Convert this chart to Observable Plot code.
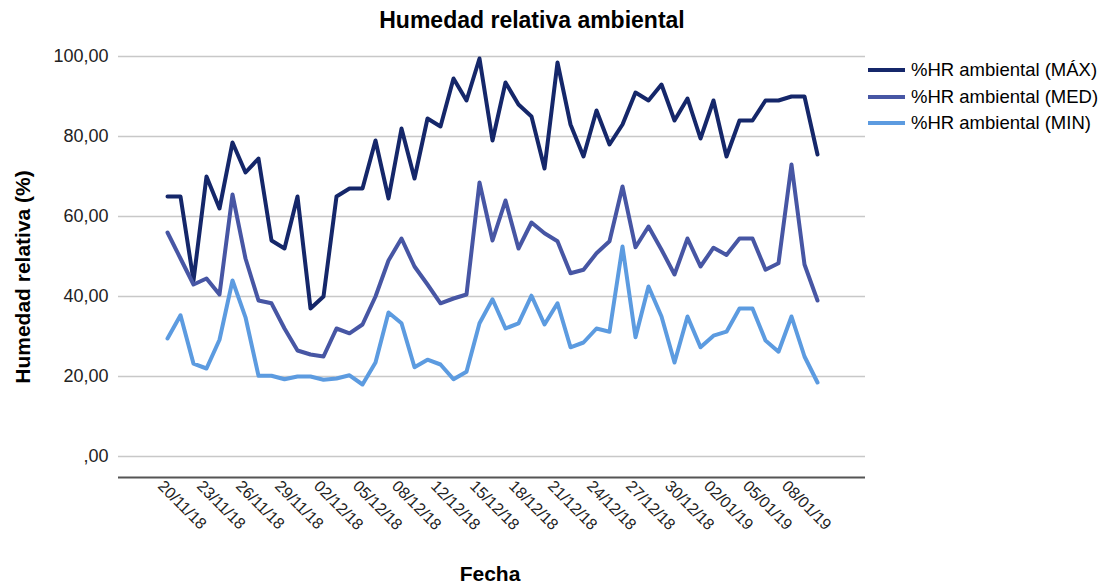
<!DOCTYPE html>
<html><head><meta charset="utf-8">
<script src="https://cdn.jsdelivr.net/npm/d3@7"></script>
<script src="https://cdn.jsdelivr.net/npm/@observablehq/plot@0.6"></script>
<style>
body{margin:0;background:#fff;font-family:"Liberation Sans",Arial,sans-serif;}
#wrap{position:relative;width:1106px;height:587px;overflow:hidden;}
#chart{position:absolute;left:0;top:0;}
.t{position:absolute;font-weight:bold;color:#000;white-space:nowrap;line-height:1;}
#title{left:0;width:1064px;top:9px;text-align:center;font-size:23px;}
#ylab{left:22px;top:277px;font-size:21px;transform:translate(-50%,-50%) rotate(-90deg);}
#xlab{left:490px;top:573px;font-size:21px;transform:translate(-50%,-50%);}
.leg{position:absolute;left:868px;height:20px;display:flex;align-items:center;font-size:18.5px;color:#000;white-space:nowrap;}
.sw{width:37px;height:4px;margin-right:6px;}
</style></head><body>
<div id="wrap">
  <div id="chart"></div>
  <div class="t" id="title">Humedad relativa ambiental</div>
  <div class="t" id="ylab">Humedad relativa (%)</div>
  <div class="t" id="xlab">Fecha</div>
  <div id="legend"></div>
</div>
<script>
const dates = ["20/11/18","21/11/18","22/11/18","23/11/18","24/11/18","25/11/18","26/11/18","27/11/18","28/11/18","29/11/18","30/11/18",
"01/12/18","02/12/18","03/12/18","04/12/18","05/12/18","06/12/18","07/12/18","08/12/18","09/12/18","11/12/18","12/12/18","13/12/18","14/12/18","15/12/18","16/12/18","17/12/18","18/12/18","19/12/18","20/12/18","21/12/18","22/12/18","23/12/18","24/12/18","25/12/18","26/12/18","27/12/18","28/12/18","29/12/18","30/12/18","31/12/18",
"01/01/19","02/01/19","03/01/19","04/01/19","05/01/19","06/01/19","07/01/19","08/01/19","09/01/19","10/01/19"];

const tickDates = ["20/11/18","23/11/18","26/11/18","29/11/18","02/12/18","05/12/18","08/12/18","12/12/18","15/12/18","18/12/18","21/12/18","24/12/18","27/12/18","30/12/18","02/01/19","05/01/19","08/01/19"];

const seriesNames = ["%HR ambiental (MÁX)","%HR ambiental (MED)","%HR ambiental (MIN)"];
const seriesColors = ["#15276a","#4756a4","#5c9be0"];

const hrMax = [65,65,44,70,62,78.5,71,74.5,54,52,65,37,40,65,67,67,79,64.5,82,69.5,84.5,82.5,94.5,89,99.5,79,93.5,88,85,72,98.5,83,75,86.5,78,83,91,89,93,84,89.5,79.5,89,75,84,84,89,89,90,90,75.5];
const hrMed = [56,49.5,43,44.5,40.5,65.5,49.5,39,38.3,32,26.5,25.5,25,32,30.8,33,40,49,54.5,47.5,43,38.3,39.5,40.5,68.5,54,64,52,58.5,55.8,53.8,45.8,46.7,50.8,53.8,67.5,52.3,57.5,51.7,45.5,54.5,47.5,52.2,50.4,54.5,54.5,46.7,48.3,73,48,39];
const hrMin = [29.5,35.3,23.2,22,29.2,44,34.8,20.2,20.2,19.3,20,20,19.2,19.5,20.3,18,23.5,36,33.3,22.3,24.2,23,19.3,21.2,33.3,39.3,32,33.3,40.2,33,38.3,27.3,28.5,32,31.2,52.5,29.8,42.5,35,23.5,35,27.3,30.2,31.2,37,37,29,26.2,35,25,18.5];

const yTicks = [0,20,40,60,80,100];
const yMin = -5.25, yMax = 105;

const seriesValues = [hrMax, hrMed, hrMin];
const data = [];
seriesValues.forEach((vals, s) => vals.forEach((v, i) => data.push({date: dates[i], value: v, series: seriesNames[s]})));

const fmt = v => v === 0 ? ",00" : v.toFixed(2).replace(".", ",");

const chart = Plot.plot({
  width: 1106, height: 587,
  marginLeft: 118, marginRight: 241, marginTop: 36, marginBottom: 110,
  style: {fontFamily: "'Liberation Sans', Arial, sans-serif", fontSize: "18px", background: "#fff", color: "#222"},
  x: {type: "point", domain: dates, padding: 2.7, label: null},
  y: {domain: [yMin, yMax], label: null},
  color: {domain: seriesNames, range: seriesColors},
  marks: [
    Plot.gridY(yTicks, {stroke: "#c8c8c8", strokeOpacity: 1, strokeWidth: 1.6}),
    Plot.ruleY([yMin], {stroke: "#555", strokeWidth: 2}),
    Plot.axisY(yTicks, {tickSize: 0, tickPadding: 10, tickFormat: fmt, fontSize: 18, label: null}),
    Plot.axisX(tickDates, {tickSize: 0, tickRotate: 45, tickPadding: 6, dx: -7, fontSize: 16, label: null}),
    Plot.line(data, {x: "date", y: "value", z: "series", stroke: "series", strokeWidth: 4})
  ]
});
document.getElementById("chart").appendChild(chart);

const legend = document.getElementById("legend");
const legY = [70, 97, 123];
seriesNames.forEach((n, i) => {
  const d = document.createElement("div");
  d.className = "leg";
  d.style.top = (legY[i] - 10) + "px";
  d.innerHTML = `<div class="sw" style="background:${seriesColors[i]}"></div><span>${n}</span>`;
  legend.appendChild(d);
});
</script>
</body></html>
